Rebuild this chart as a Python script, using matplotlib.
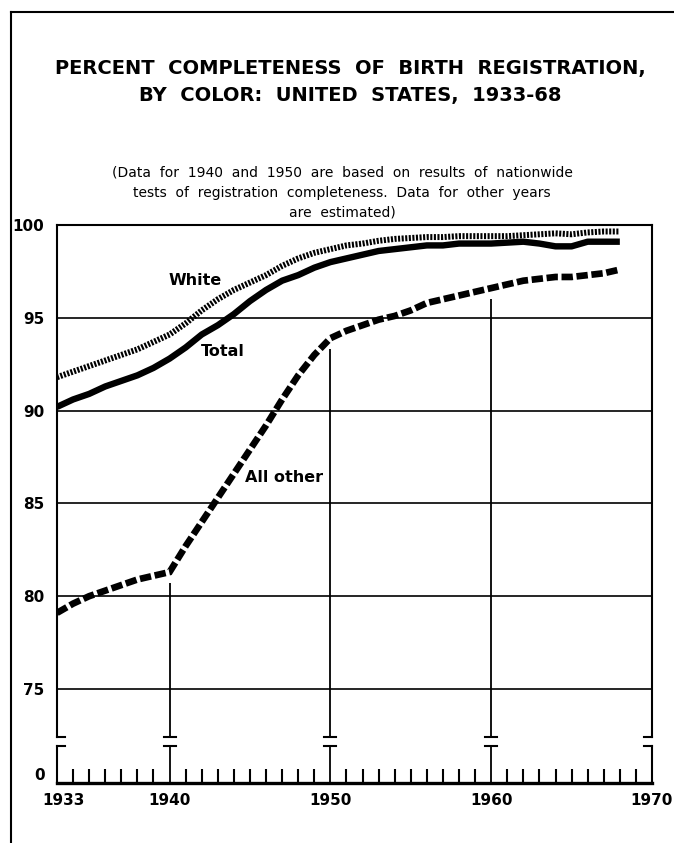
import numpy as np
import matplotlib
matplotlib.use("Agg")
import matplotlib.pyplot as plt
from matplotlib.lines import Line2D
from matplotlib.transforms import ScaledTranslation

# Percent completeness of birth registration by color, US 1933-68

years = np.arange(1933, 1969)

white = [91.8, 92.1, 92.4, 92.7, 93.0, 93.3, 93.7, 94.1, 94.7, 95.4,
         96.0, 96.5, 96.9, 97.3, 97.8, 98.2, 98.5, 98.7, 98.9, 99.0,
         99.15, 99.25, 99.3, 99.35, 99.35, 99.4, 99.4, 99.4, 99.4, 99.45,
         99.5, 99.55, 99.5, 99.6, 99.65, 99.65]

total = [90.2, 90.6, 90.9, 91.3, 91.6, 91.9, 92.3, 92.8, 93.4, 94.1,
         94.6, 95.2, 95.9, 96.5, 97.0, 97.3, 97.7, 98.0, 98.2, 98.4,
         98.6, 98.7, 98.8, 98.9, 98.9, 99.0, 99.0, 99.0, 99.05, 99.1,
         99.0, 98.85, 98.85, 99.1, 99.1, 99.1]

all_other = [79.1, 79.6, 80.0, 80.3, 80.6, 80.9, 81.1, 81.3, 82.7, 84.0,
             85.3, 86.6, 87.9, 89.2, 90.6, 91.9, 93.0, 93.9, 94.3, 94.6,
             94.9, 95.1, 95.4, 95.8, 96.0, 96.2, 96.4, 96.6, 96.8, 97.0,
             97.1, 97.2, 97.2, 97.3, 97.4, 97.6]

y_ticks = [100, 95, 90, 85, 80, 75]
x_ticks = [1933, 1940, 1950, 1960, 1970]
test_years = [1940, 1950, 1960]  # years with drop lines from the "All other" curve

title = "PERCENT  COMPLETENESS  OF  BIRTH  REGISTRATION,\nBY  COLOR:  UNITED  STATES,  1933-68"
subtitle = ["(Data  for  1940  and  1950  are  based  on  results  of  nationwide",
            "tests  of  registration  completeness.  Data  for  other  years",
            "are  estimated)"]


def main():
    W, H = 674, 843
    fig = plt.figure(figsize=(W / 100, H / 100), dpi=100)

    def box(l, t, r, b):
        return [l / W, 1 - b / H, (r - l) / W, (b - t) / H]

    # upper part of the broken axis (75-100)
    ax = fig.add_axes(box(57, 225, 652, 737))
    ax.set_xlim(1933, 1970)
    ymin = 100 - 512 / 18.56
    ax.set_ylim(ymin, 100)
    ax.spines['bottom'].set_visible(False)
    for s in ['top', 'left', 'right']:
        ax.spines[s].set_linewidth(1.5)
    ax.set_xticks([])
    ax.set_yticks(y_ticks)
    ax.set_yticklabels([str(v) for v in y_ticks], fontsize=11, fontweight='bold')
    ax.tick_params(axis='y', length=0, pad=9)

    for v in y_ticks[1:]:
        ax.axhline(v, color='k', lw=1.2, zorder=1)

    tops = [all_other[list(years).index(y)] - 0.6 for y in test_years]
    ax.vlines(test_years, ymin, tops, color='k', lw=1.3, zorder=1)

    ax.plot(years, total, color='k', lw=4.6, solid_capstyle='butt', zorder=3)
    ax.plot(years, white, color='k', lw=4.3, ls=(0, (0.35, 0.25)),
            dash_capstyle='butt', zorder=3)
    ax.plot(years, all_other, color='k', lw=4.8, ls=(0, (1.7, 0.55)),
            dash_capstyle='butt', dash_joinstyle='miter', zorder=3)

    ax.text(1941.6, 97.0, "White", ha='center', va='center', fontsize=11.5, fontweight='bold')
    ax.text(1943.3, 93.2, "Total", ha='center', va='center', fontsize=11.5, fontweight='bold')
    ax.text(1947.1, 86.4, "All other", ha='center', va='center', fontsize=11.5, fontweight='bold')

    # break marks
    kw = dict(color='k', lw=1.5, clip_on=False)
    ax.plot([1933, 1933.5], [ymin, ymin], **kw)
    ax.plot([1969.5, 1970], [ymin, ymin], **kw)
    for y in test_years:
        ax.plot([y - 0.37, y + 0.37], [ymin, ymin], **kw)

    # lower part of the broken axis (0)
    ax2 = fig.add_axes(box(57, 746, 652, 783))
    ax2.set_xlim(1933, 1970)
    ax2.set_ylim(0, 1)
    ax2.spines['top'].set_visible(False)
    ax2.spines['bottom'].set_linewidth(2.4)
    ax2.spines['left'].set_linewidth(1.5)
    ax2.spines['right'].set_linewidth(1.5)
    ax2.set_xticks(x_ticks)
    ax2.set_xticklabels([str(x) for x in x_ticks], fontsize=11, fontweight='bold')
    ax2.set_xticks([y for y in range(1934, 1970) if y not in x_ticks], minor=True)
    ax2.tick_params(axis='x', which='major', length=0, pad=7)
    ax2.tick_params(axis='x', which='minor', direction='in', length=10, width=1.5)
    ax2.set_yticks([0])
    ax2.set_yticklabels(['0'], fontsize=11, fontweight='bold', va='bottom')
    ax2.tick_params(axis='y', length=0, pad=9)

    # first year label sits a little right of the axis corner
    lab = ax2.get_xticklabels()[0]
    lab.set_transform(lab.get_transform() + ScaledTranslation(5 / 72, 0, fig.dpi_scale_trans))

    ax2.vlines(test_years, 0, 1, color='k', lw=1.3)
    ax2.plot([1933, 1933.5], [1, 1], **kw)
    ax2.plot([1969.5, 1970], [1, 1], **kw)
    for y in test_years:
        ax2.plot([y - 0.37, y + 0.37], [1, 1], **kw)

    # titles
    fig.text(350 / W, 1 - 82 / H, title, ha='center', va='center', fontsize=14,
             fontweight='bold', linespacing=1.55)
    for i, line in enumerate(subtitle):
        fig.text(342 / W, 1 - (172 + 20.5 * i) / H, line, ha='center', va='center',
                 fontsize=10)

    # page frame
    fig.add_artist(Line2D([11 / W, 1], [1 - 12 / H, 1 - 12 / H], color='k', lw=1.5))
    fig.add_artist(Line2D([11 / W, 11 / W], [0, 1 - 12 / H], color='k', lw=1.5))

    fig.savefig("out.png", dpi=100)


if __name__ == "__main__":
    main()
